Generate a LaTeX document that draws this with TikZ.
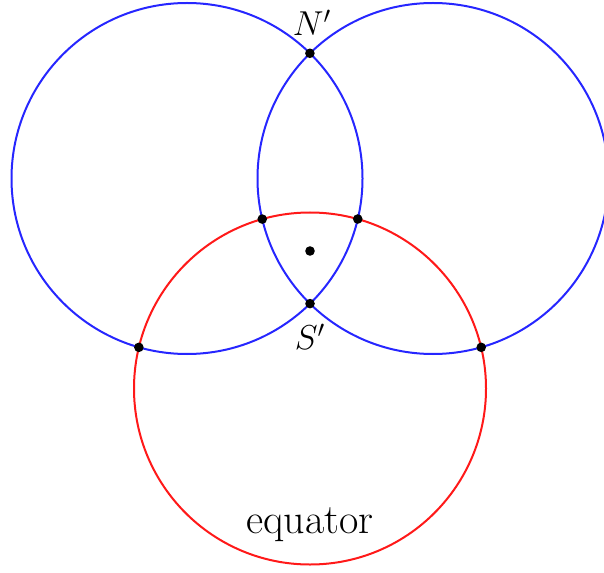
\documentclass[tikz,border=0pt]{standalone}
\usetikzlibrary{intersections}
\begin{document}
\begin{tikzpicture}[x=0.5pt,y=-0.5pt,
  bluecirc/.style={draw=blue!85!white, line width=1pt},
  redcirc/.style={draw=red!90!white, line width=1pt},
  pt/.style={circle, fill=black, inner sep=0pt, minimum size=4.8pt},
  lbl/.style={font=\fontsize{18}{21}\selectfont},
  eqlbl/.style={font=\fontsize{21}{24}\selectfont}]
\useasboundingbox (0,0) rectangle (604,572);
\clip (0,0) rectangle (604,572);
\draw[bluecirc, name path=L] (187,178.5) circle[radius=175.5];
\draw[bluecirc, name path=R] (433,178.5) circle[radius=175.5];
\draw[redcirc, name path=E] (310,388.5) circle[radius=176];
\path[name intersections={of=L and R, name=lr}];
\path[name intersections={of=L and E, name=le}];
\path[name intersections={of=R and E, name=re}];
\node[pt] (p1) at (lr-1) {};
\node[pt] (p2) at (lr-2) {};
\node[pt] (p3) at (le-1) {};
\node[pt] (p4) at (le-2) {};
\node[pt] (p5) at (re-1) {};
\node[pt] (p6) at (re-2) {};
\node[pt] (c) at (310,251) {};
\node[lbl] (N) at (312,23) {$N'$};
\node[lbl] (S) at (310,337) {$S'$};
\node[eqlbl] (eq) at (310,525) {equator};
\end{tikzpicture}
\end{document}
